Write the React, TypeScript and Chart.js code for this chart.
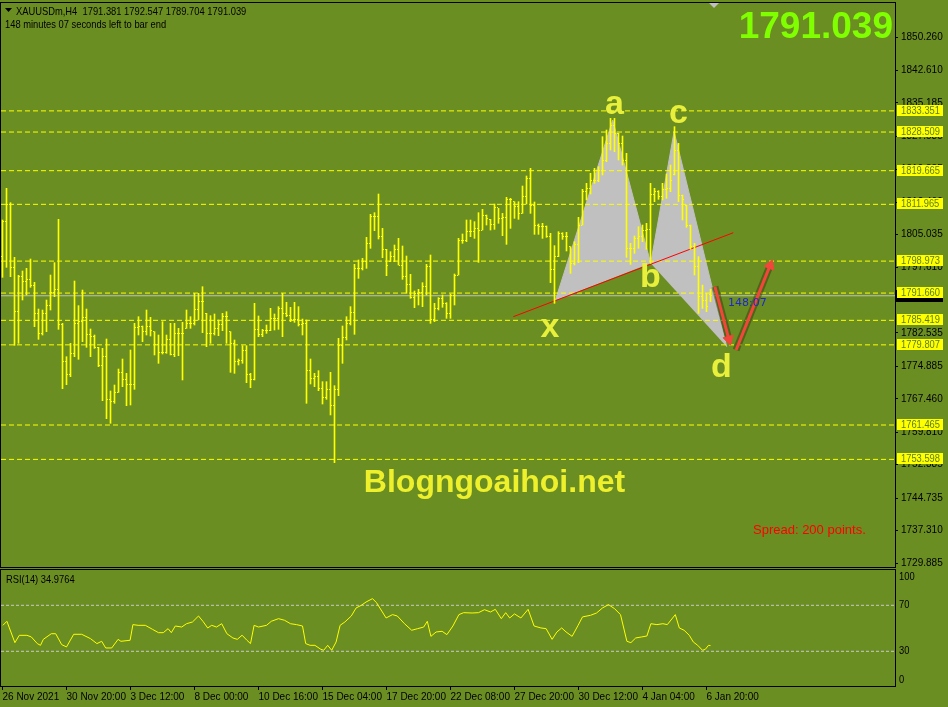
import React, { useEffect, useRef } from 'react';
import { Chart, registerables } from 'chart.js';

Chart.register(...registerables);

const BG = '#6b8e23';
const BIG = "'Liberation Sans', Arial, sans-serif";
const SMALL = "'Liberation Sans', Arial, sans-serif";

// ---- H4 bars (index 0 = 26 Nov 2021 00:00) ----
const high = [
  1808.38, 1815.63, 1812.35, 1799.84, 1795.72, 1796.71, 1797.32, 1799.45, 1794.12, 1788.01,
  1787.78, 1790.07, 1795.79, 1798.62, 1808.53, 1784.73, 1777.10, 1780.16, 1794.42, 1788.78,
  1792.36, 1788.01, 1783.44, 1782.06, 1779.24, 1779.01, 1781.15, 1769.25, 1770.62, 1774.28,
  1776.57, 1773.29, 1778.63, 1784.73, 1786.26, 1784.12, 1787.78, 1786.11, 1782.83, 1782.06,
  1785.11, 1782.06, 1784.73, 1784.73, 1783.59, 1784.96, 1787.78, 1786.26, 1791.60, 1791.60,
  1793.12, 1787.02, 1786.49, 1786.87, 1785.50, 1787.02, 1787.40, 1782.83, 1780.92, 1776.57,
  1779.62, 1779.62, 1773.29, 1789.31, 1786.41, 1783.36, 1784.35, 1788.17, 1786.87, 1788.55,
  1791.60, 1789.54, 1788.39, 1789.54, 1788.55, 1785.72, 1785.50, 1776.57, 1773.29, 1773.90,
  1771.38, 1771.38, 1773.52, 1770.47, 1781.30, 1784.12, 1786.26, 1788.55, 1798.24, 1799.23,
  1799.61, 1804.41, 1809.68, 1810.06, 1814.33, 1806.47, 1801.67, 1801.13, 1802.66, 1804.19,
  1802.43, 1800.14, 1795.95, 1792.13, 1792.51, 1794.04, 1798.24, 1800.37, 1789.31, 1790.61,
  1791.22, 1789.46, 1791.45, 1796.02, 1804.19, 1805.18, 1808.38, 1808.38, 1808.00, 1810.06,
  1810.82, 1809.52, 1808.53, 1812.04, 1811.05, 1809.90, 1813.57, 1813.34, 1812.57, 1812.57,
  1816.16, 1818.45, 1820.20, 1812.50, 1807.46, 1807.62, 1807.01, 1805.33, 1802.51, 1805.71,
  1805.48, 1805.56, 1802.28, 1803.42, 1808.99, 1815.40, 1816.77, 1819.06, 1820.20, 1820.58,
  1827.45, 1828.97, 1831.64, 1831.64, 1828.21, 1827.60, 1823.64, 1803.04, 1804.72, 1806.85,
  1807.23, 1807.62, 1816.77, 1815.63, 1815.09, 1816.77, 1818.91, 1820.97, 1829.74, 1825.92,
  1814.10, 1811.81, 1807.23, 1803.04, 1799.99, 1793.50, 1791.60, 1792.547,
];
const low = [
  1795.26, 1797.55, 1795.41, 1779.70, 1780.16, 1790.07, 1791.22, 1792.97, 1783.97, 1781.07,
  1782.06, 1782.83, 1787.78, 1790.84, 1783.36, 1769.78, 1770.70, 1772.53, 1777.10, 1776.50,
  1780.54, 1779.24, 1777.10, 1779.01, 1774.82, 1767.04, 1762.92, 1761.85, 1766.43, 1768.94,
  1770.24, 1765.89, 1766.04, 1769.63, 1782.06, 1780.54, 1782.06, 1781.83, 1777.49, 1775.58,
  1777.71, 1777.87, 1777.49, 1777.10, 1777.33, 1771.77, 1783.59, 1783.59, 1784.35, 1785.50,
  1782.60, 1779.39, 1780.16, 1782.06, 1781.91, 1783.05, 1780.16, 1773.52, 1773.29, 1775.20,
  1775.58, 1771.15, 1770.01, 1771.77, 1781.68, 1781.68, 1782.44, 1783.05, 1783.21, 1783.36,
  1781.68, 1786.26, 1785.11, 1784.96, 1784.12, 1782.06, 1766.43, 1770.85, 1770.24, 1769.32,
  1766.27, 1767.34, 1763.76, 1752.85, 1768.18, 1775.58, 1780.92, 1784.35, 1782.22, 1795.03,
  1796.94, 1797.32, 1801.90, 1805.94, 1804.03, 1799.76, 1795.64, 1798.85, 1798.85, 1798.08,
  1794.80, 1791.60, 1790.46, 1788.32, 1788.93, 1788.55, 1791.22, 1784.73, 1785.12, 1787.79,
  1788.40, 1785.88, 1785.88, 1788.93, 1795.79, 1803.04, 1803.42, 1804.57, 1804.18, 1798.69,
  1806.09, 1807.23, 1806.09, 1806.24, 1807.62, 1804.79, 1802.81, 1806.47, 1808.76, 1808.53,
  1809.90, 1812.04, 1809.90, 1805.10, 1805.10, 1804.18, 1804.41, 1794.04, 1789.31, 1799.99,
  1803.95, 1801.29, 1796.17, 1798.08, 1798.61, 1807.23, 1812.96, 1814.33, 1816.77, 1817.15,
  1818.68, 1821.73, 1824.40, 1824.02, 1822.11, 1820.97, 1799.84, 1798.23, 1800.75, 1801.90,
  1803.42, 1801.67, 1798.46, 1812.57, 1813.11, 1812.96, 1813.34, 1814.86, 1818.68, 1812.57,
  1808.38, 1806.70, 1801.67, 1795.79, 1787.02, 1788.16, 1787.40, 1789.704,
];
const open = [
  1800.00, 1808.15, 1811.96, 1797.55, 1787.40, 1795.41, 1794.27, 1794.80, 1793.50, 1787.02,
  1782.44, 1786.87, 1788.78, 1791.75, 1792.51, 1784.50, 1775.96, 1773.06, 1777.87, 1784.73,
  1785.11, 1786.03, 1782.29, 1781.83, 1779.16, 1775.04, 1777.10, 1767.19, 1766.81, 1768.94,
  1773.44, 1771.77, 1770.77, 1770.77, 1783.82, 1783.97, 1782.83, 1783.97, 1782.83, 1779.93,
  1778.17, 1778.17, 1780.92, 1777.64, 1782.44, 1782.44, 1783.60, 1784.73, 1784.73, 1787.94,
  1789.69, 1787.00, 1782.44, 1782.44, 1783.59, 1784.50, 1786.26, 1782.80, 1780.16, 1775.96,
  1776.34, 1778.63, 1772.91, 1771.92, 1783.21, 1782.29, 1782.98, 1783.05, 1785.88, 1785.88,
  1788.09, 1786.87, 1786.64, 1785.50, 1785.50, 1784.58, 1784.73, 1774.05, 1772.15, 1772.53,
  1769.71, 1767.80, 1769.48, 1765.89, 1769.48, 1779.55, 1781.53, 1784.73, 1787.25, 1797.32,
  1797.32, 1798.85, 1803.04, 1809.14, 1809.14, 1804.57, 1801.67, 1798.85, 1799.99, 1801.74,
  1798.08, 1795.41, 1793.66, 1790.61, 1791.60, 1791.75, 1793.13, 1797.85, 1785.50, 1788.17,
  1790.46, 1789.16, 1786.87, 1791.07, 1795.79, 1803.80, 1803.80, 1805.71, 1805.71, 1806.47,
  1806.09, 1809.52, 1808.53, 1807.46, 1811.20, 1808.76, 1808.99, 1812.96, 1812.57, 1811.43,
  1809.90, 1813.72, 1817.91, 1811.81, 1807.01, 1806.85, 1806.85, 1804.57, 1796.94, 1799.99,
  1805.33, 1804.57, 1802.28, 1798.46, 1802.66, 1807.23, 1814.86, 1815.63, 1817.53, 1817.53,
  1819.82, 1822.11, 1825.92, 1830.12, 1828.21, 1825.92, 1822.11, 1801.90, 1801.90, 1804.18,
  1804.57, 1806.09, 1806.24, 1814.33, 1814.86, 1813.72, 1815.40, 1815.63, 1818.70, 1824.40,
  1814.00, 1811.80, 1807.23, 1802.28, 1797.70, 1790.83, 1790.07, 1791.381,
];
const close = [
  1808.15, 1811.96, 1797.55, 1787.40, 1795.41, 1794.27, 1794.80, 1793.50, 1787.02, 1782.44,
  1786.87, 1788.78, 1791.75, 1792.51, 1784.50, 1775.96, 1773.06, 1777.87, 1784.73, 1785.11,
  1786.03, 1782.29, 1781.83, 1779.16, 1775.04, 1777.10, 1767.19, 1766.81, 1768.94, 1773.44,
  1771.77, 1770.77, 1770.77, 1783.82, 1783.97, 1782.83, 1783.97, 1782.98, 1779.93, 1778.17,
  1778.17, 1780.92, 1777.64, 1782.44, 1782.44, 1782.44, 1784.73, 1784.73, 1787.94, 1789.69,
  1789.69, 1782.44, 1782.44, 1783.59, 1784.50, 1786.26, 1786.26, 1780.16, 1775.96, 1776.34,
  1778.63, 1772.91, 1771.92, 1783.21, 1782.29, 1782.98, 1783.05, 1785.88, 1785.88, 1788.09,
  1786.87, 1786.64, 1785.50, 1785.50, 1784.58, 1784.73, 1774.05, 1772.15, 1772.53, 1769.71,
  1767.80, 1769.48, 1765.89, 1769.48, 1779.55, 1781.53, 1784.73, 1787.25, 1797.32, 1797.32,
  1798.85, 1803.04, 1809.14, 1809.14, 1804.57, 1801.67, 1798.08, 1799.99, 1801.74, 1798.08,
  1795.41, 1793.66, 1790.61, 1791.60, 1791.75, 1793.13, 1797.85, 1785.50, 1788.17, 1790.46,
  1789.16, 1786.87, 1791.07, 1795.79, 1803.80, 1803.80, 1805.71, 1805.71, 1806.47, 1806.09,
  1809.52, 1808.61, 1807.46, 1811.20, 1808.76, 1808.99, 1812.96, 1812.96, 1811.43, 1809.90,
  1813.72, 1817.91, 1811.81, 1807.01, 1806.85, 1806.85, 1804.57, 1796.94, 1799.99, 1805.33,
  1804.57, 1804.57, 1798.46, 1802.66, 1807.23, 1814.86, 1815.63, 1817.53, 1817.53, 1819.82,
  1822.11, 1825.92, 1830.12, 1828.21, 1825.92, 1822.11, 1801.90, 1801.90, 1804.18, 1804.57,
  1806.09, 1806.24, 1814.33, 1814.86, 1813.72, 1815.40, 1815.63, 1817.53, 1824.40, 1814.00,
  1812.96, 1807.23, 1802.28, 1797.70, 1790.83, 1790.07, 1788.55, 1791.039,
];

// ---- price axis & levels ----
const priceTicks = [
  1850.26, 1842.61, 1835.185, 1827.535, 1819.885, 1812.46, 1805.035, 1797.61, 1790.185,
  1782.535, 1774.885, 1767.46, 1759.81, 1752.385, 1744.735, 1737.31, 1729.885,
];
const levels = [1833.351, 1828.509, 1819.665, 1811.965, 1798.973, 1791.66, 1785.419, 1779.807, 1761.465, 1753.598];
const bidPrice = 1791.039;

// ---- harmonic pattern (bar index, price) ----
const xabIdx = [138.2, 152.55, 162.05];
const xabPrice = [1789.96, 1831.26, 1798.47];
const bcdIdx = [162.05, 167.9, 181.05];
const bcdPrice = [1798.47, 1828.59, 1779.39];
const trendIdx = [127.7, 182.7];
const trendPrice = [1786.25, 1805.47];
const arrow1Idx = [178.1, 181.6];
const arrow1Price = [1793.12, 1781.06];
const arrow2Idx = [183.4, 191.9];
const arrow2Price = [1778.63, 1797.99];

// ---- RSI(14) ----
const rsiPos = [
  0.1, 1.1, 3.1, 4.2, 6.1, 7.2, 8.7, 9.5, 10.2, 12.2, 13.3, 14.8, 16.0, 17.8, 19.8, 22.0, 23.6, 24.8, 25.8, 27.3,
  28.9, 29.6, 31.9, 32.6, 33.9, 35.7, 37.5, 39.0, 40.2, 41.4, 42.2, 43.2, 44.8, 46.0, 47.5, 49.0, 50.1, 51.3, 52.3, 53.5,
  54.8, 56.1, 57.6, 58.7, 59.9, 61.1, 62.0, 62.9, 64.0, 66.0, 67.2, 69.0, 70.5, 72.0, 73.5, 75.0, 75.8, 76.9, 78.1, 79.6,
  80.3, 81.3, 82.3, 83.4, 84.4, 85.6, 87.2, 88.4, 89.7, 90.9, 92.5, 93.5, 95.9, 97.5, 98.7, 100.5, 102.3, 103.8, 105.3, 106.2,
  107.1, 108.4, 109.9, 111.1, 112.6, 114.1, 115.3, 117.4, 119.0, 120.5, 122.0, 123.2, 124.7, 125.8, 126.8, 128.0, 129.6, 131.4, 132.9, 134.6,
  135.9, 137.4, 138.6, 139.8, 140.9, 142.4, 143.9, 145.0, 147.0, 148.5, 150.0, 151.5, 153.0, 154.5, 156.1, 157.1, 158.3, 159.8, 161.1, 162.1,
  163.6, 165.1, 166.2, 168.2, 169.2, 170.4, 171.7, 172.7, 173.8, 175.0, 175.7, 176.5, 177.0,
];
const rsiVal = [
  52.6, 56.1, 37.5, 43.9, 43.9, 42.5, 36.7, 35.2, 40.4, 45.3, 45.3, 35.8, 33.8, 44.8, 44.8, 41.0, 36.7, 38.7, 32.9, 32.9,
  40.4, 38.7, 39.6, 53.2, 52.6, 52.6, 49.1, 46.2, 46.2, 49.7, 46.2, 52.0, 51.1, 54.0, 55.5, 60.7, 56.1, 50.3, 52.6, 51.1,
  54.0, 45.3, 41.6, 40.4, 44.0, 39.6, 36.7, 52.6, 51.1, 52.6, 56.1, 58.4, 57.0, 54.0, 53.2, 52.0, 36.7, 35.2, 35.2, 31.7,
  30.9, 35.2, 30.9, 38.1, 52.6, 55.5, 60.7, 67.7, 70.0, 72.9, 75.8, 72.3, 59.0, 61.9, 60.7, 54.0, 48.3, 49.7, 51.1, 56.1,
  43.0, 46.8, 47.4, 44.5, 52.0, 61.9, 63.6, 63.3, 63.6, 66.2, 64.2, 66.5, 58.4, 63.6, 59.0, 62.5, 59.0, 66.5, 52.0, 50.3,
  49.7, 40.4, 46.8, 50.3, 46.8, 43.0, 52.6, 59.9, 61.3, 63.3, 67.7, 70.6, 67.1, 61.9, 38.7, 37.5, 41.6, 42.5, 43.3, 54.0,
  53.2, 54.0, 53.2, 61.9, 50.3, 48.3, 43.9, 38.1, 35.2, 30.9, 31.7, 35.2, 35.0,
];
const rsiLevels = [70, 30];
const rsiTickLabels = ['100', '70', '30', '0'];
const rsiTickValues = [100, 70, 30, 0];

// ---- time axis ----
const xTickBars = [0, 16, 32, 48, 64, 80, 96, 112, 128, 144, 160, 176];
const xTickLabels = [
  '26 Nov 2021', '30 Nov 20:00', '3 Dec 12:00', '8 Dec 00:00', '10 Dec 16:00', '15 Dec 04:00',
  '17 Dec 20:00', '22 Dec 08:00', '27 Dec 20:00', '30 Dec 12:00', '4 Jan 04:00', '6 Jan 20:00',
];

const X_MIN = -0.375;
const X_MAX = 223.125;
const Y_MIN = 1728.97;
const Y_MAX = 1858.041;

function tickImage(side: 'left' | 'right') {
  const c = document.createElement('canvas');
  c.width = 3;
  c.height = 1;
  const g = c.getContext('2d')!;
  g.fillStyle = '#ffff00';
  g.fillRect(side === 'left' ? 0 : 2, 0, 1, 1);
  return c;
}

function narrowText(ctx: CanvasRenderingContext2D, text: string, x: number, y: number, align: CanvasTextAlign = 'left') {
  ctx.save();
  ctx.translate(x, y);
  ctx.scale(0.85, 1);
  ctx.textAlign = align;
  ctx.fillText(text, 0, 0);
  ctx.restore();
}

const mainOverlay = {
  id: 'mainOverlay',
  afterDraw(chart: any) {
    const ctx = chart.ctx as CanvasRenderingContext2D;
    const ys = chart.scales.y;
    ctx.save();
    ctx.strokeStyle = '#000';
    ctx.lineWidth = 1;
    ctx.strokeRect(0.5, 2.5, 895, 565);
    const by = Math.round(ys.getPixelForValue(bidPrice));
    ctx.fillStyle = '#000';
    ctx.fillRect(896, by - 6, 47, 12);
    ctx.font = `11px ${SMALL}`;
    ctx.textBaseline = 'middle';
    levels.forEach((l) => {
      const py = Math.round(ys.getPixelForValue(l));
      ctx.fillStyle = '#ffff00';
      ctx.fillRect(897, py - 6, 46, 11);
      ctx.fillStyle = '#5d7d1c';
      narrowText(ctx, l.toFixed(3), 901, py - 0.5);
    });
    // header
    ctx.fillStyle = '#000';
    ctx.beginPath();
    ctx.moveTo(5, 8);
    ctx.lineTo(12, 8);
    ctx.lineTo(8.5, 12);
    ctx.closePath();
    ctx.fill();
    ctx.textBaseline = 'alphabetic';
    ctx.font = `11px ${SMALL}`;
    narrowText(ctx, 'XAUUSDm,H4  1791.381 1792.547 1789.704 1791.039', 16, 15);
    narrowText(ctx, '148 minutes 07 seconds left to bar end', 5, 28);
    // shift marker
    ctx.fillStyle = '#c0c0c0';
    ctx.beginPath();
    ctx.moveTo(709, 3);
    ctx.lineTo(719, 3);
    ctx.lineTo(714, 8);
    ctx.closePath();
    ctx.fill();
    // big price
    ctx.fillStyle = '#80ff00';
    ctx.font = `bold 37px ${BIG}`;
    ctx.textAlign = 'right';
    ctx.fillText('1791.039', 893, 38);
    // pattern labels
    ctx.fillStyle = '#e8f03c';
    ctx.font = `bold 34px ${BIG}`;
    ctx.textAlign = 'center';
    ctx.fillText('a', 614.5, 114);
    ctx.fillText('c', 678.5, 123);
    ctx.fillText('b', 650.5, 287);
    ctx.fillText('x', 550, 337);
    ctx.fillText('d', 721.5, 377);
    // timer
    ctx.fillStyle = '#1e28c8';
    ctx.font = `11px 'DejaVu Sans', sans-serif`;
    ctx.textAlign = 'left';
    ctx.fillText('148:07', 728, 306);
    // watermark
    ctx.fillStyle = '#eef02c';
    ctx.font = `bold 32px ${BIG}`;
    ctx.textAlign = 'center';
    ctx.fillText('Blogngoaihoi.net', 494.5, 492);
    // spread
    ctx.fillStyle = '#ff0000';
    ctx.font = `13px ${BIG}`;
    ctx.textAlign = 'left';
    ctx.fillText('Spread: 200 points.', 753, 534);
    ctx.restore();
  },
};

const rsiOverlay = {
  id: 'rsiOverlay',
  afterDraw(chart: any) {
    const ctx = chart.ctx as CanvasRenderingContext2D;
    const ys = chart.scales.y;
    const area = chart.chartArea;
    ctx.save();
    ctx.strokeStyle = '#000';
    ctx.lineWidth = 1;
    ctx.strokeRect(0.5, 2.5, 895, 117);
    ctx.fillStyle = '#000';
    ctx.font = `11px ${SMALL}`;
    ctx.textBaseline = 'alphabetic';
    narrowText(ctx, 'RSI(14) 34.9764', 6, 16);
    ctx.textBaseline = 'middle';
    rsiTickValues.forEach((v, i) => {
      let py = ys.getPixelForValue(v);
      py = Math.min(Math.max(py, area.top + 7), area.bottom - 7);
      narrowText(ctx, rsiTickLabels[i], 899, py);
    });
    ctx.restore();
  },
};

export default function App() {
  const mainRef = useRef<HTMLCanvasElement>(null);
  const rsiRef = useRef<HTMLCanvasElement>(null);

  useEffect(() => {
    document.body.style.margin = '0';
    document.body.style.background = BG;
    const idx = high.map((_, i) => i);
    const openImg = tickImage('left');
    const closeImg = tickImage('right');
    const levelData: any[] = [];
    levels.forEach((l) => {
      levelData.push({ x: X_MIN, y: l }, { x: X_MAX, y: l }, { x: X_MAX, y: null });
    });
    const noPad = (a: any) => {
      a.paddingTop = 0;
      a.paddingBottom = 0;
      a.paddingLeft = 0;
      a.paddingRight = 0;
    };

    const main = new Chart(mainRef.current!, {
      type: 'bar',
      data: {
        datasets: [
          {
            type: 'line',
            data: xabIdx.map((x, i) => ({ x, y: xabPrice[i] })),
            fill: 'shape',
            backgroundColor: '#c0c0c0',
            borderColor: '#c0c0c0',
            borderWidth: 1,
            pointRadius: 0,
            order: 20,
          } as any,
          {
            type: 'line',
            data: bcdIdx.map((x, i) => ({ x, y: bcdPrice[i] })),
            fill: 'shape',
            backgroundColor: '#c0c0c0',
            borderColor: '#c0c0c0',
            borderWidth: 1,
            pointRadius: 0,
            order: 20,
          } as any,
          {
            type: 'line',
            data: levelData,
            borderColor: '#ffff00',
            borderWidth: 1,
            borderDash: [5, 3],
            pointRadius: 0,
            spanGaps: false,
            order: 15,
          } as any,
          {
            type: 'line',
            data: [{ x: X_MIN, y: bidPrice }, { x: X_MAX, y: bidPrice }],
            borderColor: '#c0c0c0',
            borderWidth: 1,
            pointRadius: 0,
            order: 14,
          } as any,
          {
            type: 'line',
            data: trendIdx.map((x, i) => ({ x, y: trendPrice[i] })),
            borderColor: '#ff0000',
            borderWidth: 1,
            pointRadius: 0,
            order: 13,
          } as any,
          {
            type: 'bar',
            data: idx.map((i) => ({ x: i, y: [low[i], high[i]] })),
            backgroundColor: '#ffff00',
            borderWidth: 0,
            barThickness: 1,
            grouped: false,
            order: 10,
          } as any,
          {
            type: 'scatter',
            data: idx.map((i) => ({ x: i, y: open[i] })),
            pointStyle: openImg,
            pointRadius: 1,
            order: 9,
          } as any,
          {
            type: 'scatter',
            data: idx.map((i) => ({ x: i, y: close[i] })),
            pointStyle: closeImg,
            pointRadius: 1,
            order: 9,
          } as any,
          {
            type: 'line',
            data: arrow1Idx.map((x, i) => ({ x, y: arrow1Price[i] })),
            borderColor: 'rgba(40,50,10,0.45)',
            borderWidth: 7,
            pointRadius: 0,
            order: 5,
          } as any,
          {
            type: 'line',
            data: arrow2Idx.map((x, i) => ({ x, y: arrow2Price[i] })),
            borderColor: 'rgba(40,50,10,0.45)',
            borderWidth: 7,
            pointRadius: 0,
            order: 5,
          } as any,
          {
            type: 'line',
            data: arrow1Idx.map((x, i) => ({ x, y: arrow1Price[i] })),
            borderColor: '#f2463a',
            borderWidth: 3,
            pointRadius: 0,
            order: 4,
          } as any,
          {
            type: 'line',
            data: arrow2Idx.map((x, i) => ({ x, y: arrow2Price[i] })),
            borderColor: '#f2463a',
            borderWidth: 3,
            pointRadius: 0,
            order: 4,
          } as any,
          {
            type: 'scatter',
            data: [
              { x: arrow1Idx[1], y: arrow1Price[1] },
              { x: arrow2Idx[1], y: arrow2Price[1] },
            ],
            pointStyle: 'triangle',
            pointRadius: 6,
            pointRotation: [165, 22],
            backgroundColor: '#f2463a',
            borderColor: '#f2463a',
            order: 3,
          } as any,
        ],
      },
      options: {
        animation: false,
        responsive: false,
        events: [],
        layout: { autoPadding: false, padding: { left: 1, top: 3, right: 0, bottom: 1 } },
        plugins: { legend: { display: false }, tooltip: { enabled: false } },
        scales: {
          x: { type: 'linear', min: X_MIN, max: X_MAX, display: false, offset: false },
          y: {
            position: 'right',
            min: Y_MIN,
            max: Y_MAX,
            afterFit: (a: any) => {
              a.width = 53;
              noPad(a);
            },
            afterBuildTicks: (a: any) => {
              a.ticks = priceTicks.map((v) => ({ value: v }));
            },
            ticks: {
              callback: (v: any) => Number(v).toFixed(3),
              color: '#000',
              font: { family: SMALL, size: 10 },
              padding: 3,
              autoSkip: false,
            },
            grid: { drawOnChartArea: false, drawTicks: true, tickLength: 3, color: '#000' },
            border: { display: false },
          },
        },
      } as any,
      plugins: [mainOverlay],
    });

    const rsi = new Chart(rsiRef.current!, {
      type: 'line',
      data: {
        datasets: [
          {
            data: rsiPos.map((x, i) => ({ x, y: rsiVal[i] })),
            borderColor: '#ffff00',
            borderWidth: 1,
            pointRadius: 0,
            order: 1,
          },
          ...rsiLevels.map((l) => ({
            data: [{ x: X_MIN, y: l }, { x: X_MAX, y: l }],
            borderColor: '#c8c8c8',
            borderWidth: 1,
            borderDash: [3, 2],
            pointRadius: 0,
            order: 2,
          })),
        ],
      },
      options: {
        animation: false,
        responsive: false,
        events: [],
        layout: { autoPadding: false, padding: { left: 1, top: 3, right: 0, bottom: 0 } },
        plugins: { legend: { display: false }, tooltip: { enabled: false } },
        scales: {
          x: {
            type: 'linear',
            min: X_MIN,
            max: X_MAX,
            offset: false,
            afterFit: (a: any) => {
              a.height = 20;
              noPad(a);
            },
            afterBuildTicks: (a: any) => {
              a.ticks = xTickBars.map((v) => ({ value: v }));
            },
            ticks: {
              callback: (_v: any, i: number) => xTickLabels[i],
              align: 'start',
              maxRotation: 0,
              autoSkip: false,
              color: '#000',
              font: { family: SMALL, size: 10 },
              padding: 1,
            },
            grid: { drawOnChartArea: false, drawTicks: true, tickLength: 3, color: '#000' },
            border: { display: false },
          },
          y: {
            position: 'right',
            min: -1.04,
            max: 100.7,
            afterFit: (a: any) => {
              a.width = 53;
              noPad(a);
            },
            ticks: { display: false },
            grid: { display: false },
            border: { display: false },
          },
        },
      } as any,
      plugins: [rsiOverlay],
    });

    return () => {
      main.destroy();
      rsi.destroy();
    };
  }, []);

  return (
    <div style={{ position: 'relative', width: 948, height: 707, background: BG, overflow: 'hidden' }}>
      <canvas
        ref={mainRef}
        width={948}
        height={568}
        style={{ position: 'absolute', left: 0, top: 0, width: 948, height: 568 }}
      />
      <canvas
        ref={rsiRef}
        width={948}
        height={140}
        style={{ position: 'absolute', left: 0, top: 567, width: 948, height: 140 }}
      />
    </div>
  );
}
